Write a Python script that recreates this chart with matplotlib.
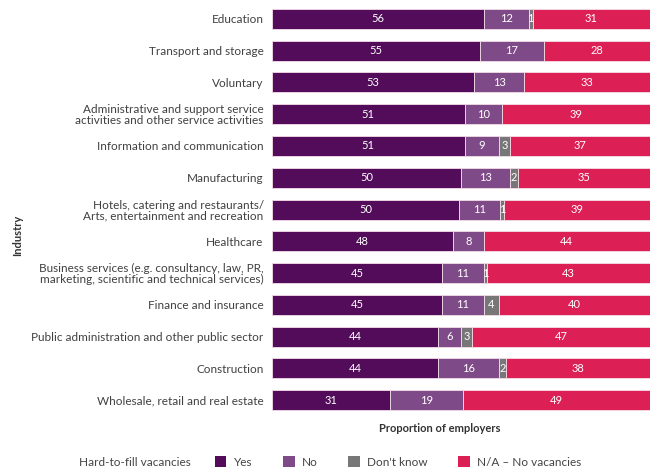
import matplotlib
matplotlib.use("Agg")
import matplotlib.pyplot as plt
from matplotlib.patches import Patch
import numpy as np

plt.rcParams['font.family'] = ['Lato', 'DejaVu Sans']

industries = [
    "Education",
    "Transport and storage",
    "Voluntary",
    "Administrative and support service\nactivities and other service activities",
    "Information and communication",
    "Manufacturing",
    "Hotels, catering and restaurants/\nArts, entertainment and recreation",
    "Healthcare",
    "Business services (e.g. consultancy, law, PR,\nmarketing, scientific and technical services)",
    "Finance and insurance",
    "Public administration and other public sector",
    "Construction",
    "Wholesale, retail and real estate",
]
yes_vals = [56, 55, 53, 51, 51, 50, 50, 48, 45, 45, 44, 44, 31]
no_vals = [12, 17, 13, 10, 9, 13, 11, 8, 11, 11, 6, 16, 19]
dk_vals = [1, 0, 0, 0, 3, 2, 1, 0, 1, 4, 3, 2, 0]
na_vals = [31, 28, 33, 39, 37, 35, 39, 44, 43, 40, 47, 38, 49]
series_names = ["Yes", "No", "Don't know", "N/A \u2013 No vacancies"]
colors = ["#520c5a", "#7f4a88", "#777777", "#dc1f55"]

data = np.array([yes_vals, no_vals, dk_vals, na_vals], dtype=float)
totals = data.sum(axis=0)
shares = data / totals * 100

fig = plt.figure(figsize=(6.53, 4.72), dpi=100)
ax = fig.add_axes([0.4165, 0.1186, 0.5785, 0.875])

y = np.arange(len(industries))
left = np.zeros(len(industries))
for i, (name, col) in enumerate(zip(series_names, colors)):
    ax.barh(y, shares[i], left=left, height=0.63, color=col,
            edgecolor="#f3dde8", linewidth=0.6)
    for j in range(len(industries)):
        v = data[i, j]
        if v > 0:
            ax.text(left[j] + shares[i, j] / 2, y[j], f"{int(v)}",
                    ha="center", va="center", color="white", fontsize=8)
    left += shares[i]

ax.set_xlim(0, 100)
ax.set_ylim(len(industries) - 0.5, -0.5)
ax.set_yticks(y)
ax.set_yticklabels(industries, fontsize=8.5, color="#404040", linespacing=1.0)
ax.tick_params(axis="y", length=0, pad=6)
ax.set_xticks([])
for s in ax.spines.values():
    s.set_visible(False)

fig.text(440 / 653, 1 - 428 / 472, "Proportion of employers", ha="center",
         va="center", fontsize=8, fontweight="bold", color="#333333")
fig.text(18 / 653, 1 - 235 / 472, "Industry", ha="center", va="center",
         rotation=90, fontsize=8, fontweight="bold", color="#333333")

fig.text(79 / 653, 1 - 462 / 472, "Hard-to-fill vacancies", ha="left",
         va="center", fontsize=8.5, color="#444444")
handles = [Patch(facecolor=c, edgecolor="none") for c in colors]
leg = fig.legend(handles, series_names, loc="center left",
                 bbox_to_anchor=(204 / 653, 1 - 462 / 472), ncol=4,
                 frameon=False, fontsize=8.5, handlelength=1.0,
                 handleheight=1.0, columnspacing=2.6, handletextpad=0.6)
for t in leg.get_texts():
    t.set_color("#444444")

fig.savefig("out.png", dpi=100)
